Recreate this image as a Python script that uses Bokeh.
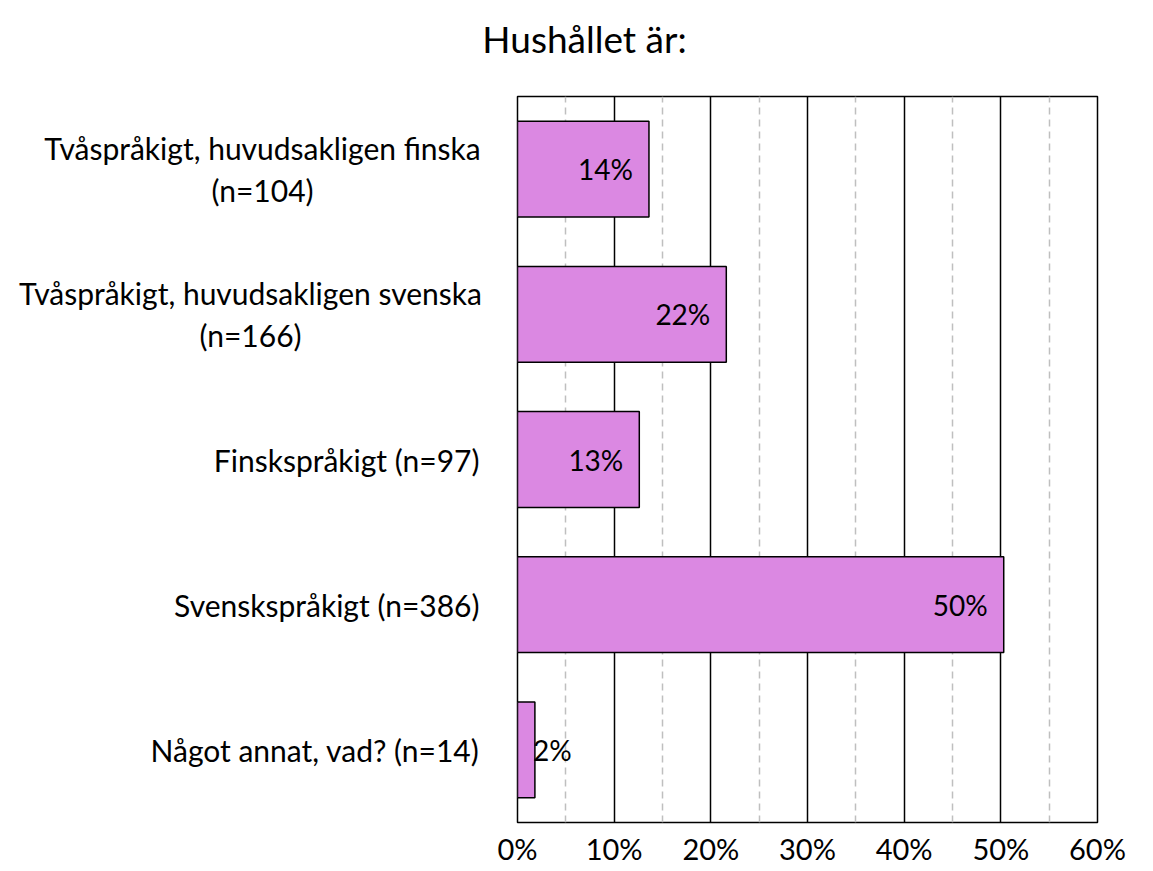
from bokeh.plotting import figure
from bokeh.models import ColumnDataSource, Range1d, FixedTicker, PrintfTickFormatter
from bokeh.layouts import column, row
from bokeh.core.properties import value
from bokeh.embed import file_html
from bokeh.resources import INLINE

title = "Hushållet är:"
categories = [
    "Tvåspråkigt, huvudsakligen finska\n(n=104)",
    "Tvåspråkigt, huvudsakligen svenska\n(n=166)",
    "Finskspråkigt (n=97)",
    "Svenskspråkigt (n=386)",
    "Något annat, vad? (n=14)",
]
percent = [13.6, 21.6, 12.6, 50.3, 1.8]
bar_labels = ["14%", "22%", "13%", "50%", "2%"]
major_ticks = [0, 10, 20, 30, 40, 50, 60]
minor_ticks = [5, 15, 25, 35, 45, 55]

FONT = "Lato"
W = 1150
TITLE_H = 94
ROW_H = 774
LABEL_W = 485
FRAME_LEFT = 517

n = len(categories)
ypos = [n - 1 - i for i in range(n)]
yr = Range1d(-0.5, n - 0.5)

# ---- title strip
tf = figure(width=W, height=TITLE_H, output_backend="svg", toolbar_location=None,
            x_range=Range1d(0, W), y_range=Range1d(0, TITLE_H),
            x_axis_type=None, y_axis_type=None, min_border=0)
tf.outline_line_color = None
tf.grid.visible = False
tf.text(x=[584], y=[TITLE_H - 37.5], text=[title], text_align="center",
        text_baseline="alphabetic", text_font=value(FONT),
        text_font_size="37px", text_color="black")

# ---- category labels panel
lf = figure(width=LABEL_W, height=ROW_H, output_backend="svg", toolbar_location=None,
            x_range=Range1d(0, LABEL_W), y_range=yr,
            x_axis_type=None, y_axis_type=None,
            min_border_left=0, min_border_right=0, min_border_top=2,
            min_border_bottom=45)
lf.outline_line_color = None
lf.grid.visible = False
two = [(c, y) for c, y in zip(categories, ypos) if "\n" in c]
one = [(c, y) for c, y in zip(categories, ypos) if "\n" not in c]
lf.text(x=[479] * len(one), y=[y for _, y in one], text=[c for c, _ in one],
        text_align="right", text_baseline="middle", text_font=value(FONT),
        text_font_size="30px", text_color="black")
lf.text(x=[262, 250], y=[y for _, y in two], text=[c for c, _ in two],
        text_align="center", text_baseline="middle", text_font=value(FONT),
        text_font_size="30px", text_color="black", text_line_height=1.17)

# ---- main chart
p = figure(width=W - LABEL_W, height=ROW_H, output_backend="svg", toolbar_location=None,
           x_range=Range1d(0, 60), y_range=yr, y_axis_type=None,
           min_border_left=FRAME_LEFT - LABEL_W, min_border_right=53, min_border_top=2,
           min_border_bottom=45)
p.background_fill_color = "white"
p.border_fill_color = "white"
p.outline_line_color = "black"
p.outline_line_width = 1.5

src = ColumnDataSource(dict(y=ypos, right=percent))
p.hbar(y="y", right="right", left=0, height=0.66, source=src,
       fill_color="#DB88E2", line_color="black", line_width=1.5)

ins = ColumnDataSource(dict(x=[v for v in percent if v >= 5],
                            y=[y for y, v in zip(ypos, percent) if v >= 5],
                            t=[l for l, v in zip(bar_labels, percent) if v >= 5]))
outs = ColumnDataSource(dict(x=[v for v in percent if v < 5],
                             y=[y for y, v in zip(ypos, percent) if v < 5],
                             t=[l for l, v in zip(bar_labels, percent) if v < 5]))
p.text(x="x", y="y", text="t", source=ins, x_offset=-16, text_align="right",
       text_baseline="middle", text_font=value(FONT), text_font_size="28px",
       text_color="black")
p.text(x="x", y="y", text="t", source=outs, x_offset=-2, text_align="left",
       text_baseline="middle", text_font=value(FONT), text_font_size="28px",
       text_color="black")

p.xaxis.ticker = FixedTicker(ticks=major_ticks, minor_ticks=minor_ticks)
p.xaxis.formatter = PrintfTickFormatter(format="%d%%")
p.xaxis.axis_line_color = None
p.xaxis.major_tick_line_color = None
p.xaxis.minor_tick_line_color = None
p.xaxis.major_label_text_font = FONT
p.xaxis.major_label_text_font_size = "29px"
p.xaxis.major_label_text_color = "black"
p.xaxis.major_label_standoff = 2

p.xgrid.grid_line_color = "black"
p.xgrid.grid_line_width = 1.5
p.xgrid.minor_grid_line_color = "#BFBFBF"
p.xgrid.minor_grid_line_dash = "7 5"
p.xgrid.minor_grid_line_width = 1.5
p.ygrid.grid_line_color = None

layout = column(tf, row(lf, p, spacing=0), spacing=0)
open("out.html", "w").write(file_html(layout, INLINE))
